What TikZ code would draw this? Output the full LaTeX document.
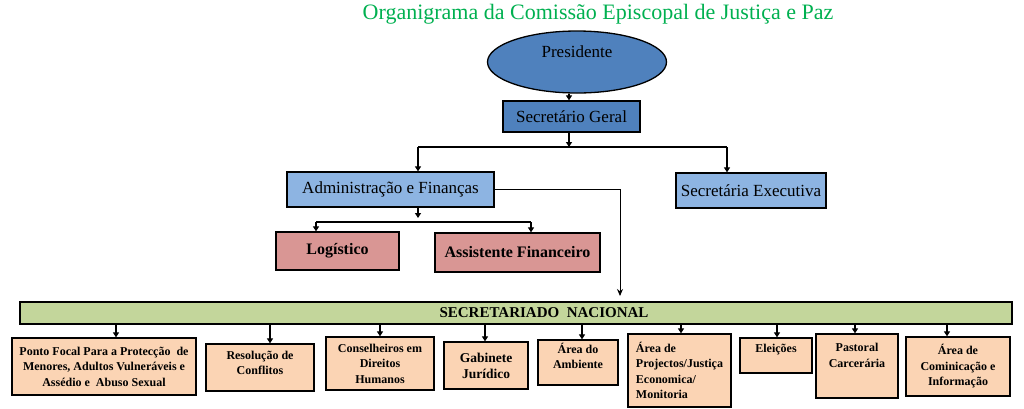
\documentclass[tikz,border=0pt]{standalone}
\usepackage{fontspec}
\setmainfont{Liberation Serif}
\usetikzlibrary{shapes.geometric,arrows.meta}
\definecolor{titlegreen}{RGB}{0,176,80}
\definecolor{darkblue}{RGB}{79,129,189}
\definecolor{lightblue}{RGB}{141,180,226}
\definecolor{rose}{RGB}{217,150,148}
\definecolor{olivegreen}{RGB}{195,214,155}
\definecolor{peach}{RGB}{251,212,180}

\begin{document}
\begin{tikzpicture}[x=1pt,y=-1pt,
	box/.style={draw=black,line width=1.3pt,rectangle,inner sep=2pt,align=center},
	topbox/.style={box,font=\fontsize{17}{19}\selectfont},
	subbox/.style={box,fill=rose,font=\fontsize{16}{18}\selectfont\bfseries},
	unitbox/.style={box,fill=peach,inner sep=1pt,font=\fontsize{12}{15.5}\selectfont\bfseries},
	arr/.style={line width=1.8pt,-{Triangle[length=5pt,width=6pt]}},
	bar/.style={line width=1.8pt},
	thinarr/.style={line width=0.9pt,-{Stealth[length=7pt,width=6pt]}}]
	\useasboundingbox (0,0) rectangle (1024,408);
	% title
	\node[text=titlegreen,font=\fontsize{22}{24}\selectfont] (title) at (598,14) {Organigrama da Comissão Episcopal de Justiça e Paz};
	% top levels
	\node[draw=black,line width=1.3pt,ellipse,fill=darkblue,minimum width=179pt,minimum height=62pt,font=\fontsize{17}{19}\selectfont] (pres) at (577,62) {};
	\node[font=\fontsize{17}{19}\selectfont] at (577,52) {Presidente};
	\node[topbox,fill=darkblue,minimum width=137pt,minimum height=31pt] (sg) at (571.5,116.5) {Secretário Geral};
	\node[topbox,fill=lightblue,minimum width=207pt,minimum height=35pt] (adm) at (390.5,189.5) {Administração e Finanças};
	\node[topbox,fill=lightblue,minimum width=150pt,minimum height=35pt] (sec) at (751,190.5) {Secretária Executiva};
	\node[subbox,minimum width=123pt,minimum height=38pt] (log) at (337.5,251) {Logístico};
	\node[subbox,minimum width=165pt,minimum height=39pt] (af) at (517.5,252.5) {Assistente Financeiro};
	\node[box,fill=olivegreen,minimum width=992pt,minimum height=22pt,font=\fontsize{15}{17}\selectfont\bfseries] (sn) at (516,313) {\hspace*{56pt}SECRETARIADO\ \ NACIONAL};
	% units
	\node[unitbox,minimum width=184pt,minimum height=57pt] (pf) at (104,366.5) {Ponto Focal Para a Protecção\ \ de\\Menores, Adultos Vulneráveis e\\Assédio e\ \ Abuso Sexual};
	\node[unitbox,minimum width=108pt,minimum height=47pt] (rc) at (260,367.5) {Resolução de\\Conflitos\\[-6pt]};
	\node[unitbox,minimum width=108pt,minimum height=53pt] (ch) at (380,363.5) {Conselheiros em\\Direitos\\Humanos};
	\node[unitbox,minimum width=84pt,minimum height=47pt,font=\fontsize{13.5}{16}\selectfont\bfseries] (gj) at (486,365.5) {Gabinete\\Jurídico};
	\node[unitbox,minimum width=80pt,minimum height=45pt] (aa) at (578,362.5) {Área do\\Ambiente\\[-2pt]};
	\node[unitbox,minimum width=103pt,minimum height=73pt,align=left] (ap) at (679.5,370.5) {Área de\\Projectos/Justiça\\Economica/\\Monitoria};
	\node[unitbox,minimum width=72pt,minimum height=35pt] (el) at (776,355.5) {Eleições\\[-2pt]};
	\node[unitbox,minimum width=82pt,minimum height=64pt] (pc) at (857,366) {Pastoral\\Carcerária\\[6pt]};
	\node[unitbox,minimum width=104pt,minimum height=59pt] (ac) at (958,366.5) {Área de\\Cominicação e\\Informação};
	% connectors
	\coordinate (sgbar) at (569,147);
	\coordinate (barL) at (418,147);
	\coordinate (barR) at (727,147);
	\draw[arr] (pres.south -| sgbar) -- (sg.north -| sgbar);
	\draw[arr] (sg.south -| sgbar) -- (sgbar);
	\draw[bar] (barL) -- (barR);
	\draw[arr] (barL) -- (adm.north -| barL);
	\draw[arr] (barR) -- (sec.north -| barR);
	\coordinate (sndrop) at (620,296);
	\draw[thinarr] (adm.east) -| (sndrop);
	\coordinate (admdown) at (418,218);
	\coordinate (subL) at (316,222);
	\coordinate (subR) at (531,222);
	\draw[arr] (adm.south -| admdown) -- (admdown);
	\draw[bar] (subL) -- (subR);
	\draw[arr] (subL) -- (log.north -| subL);
	\draw[arr] (subR) -- (af.north -| subR);
	\foreach \unit/\x in {pf/116,rc/270,ch/380,gj/485,aa/582,ap/681,el/777,pc/855,ac/947}
		\draw[arr] (sn.south -| \x,0) -- (\unit.north -| \x,0);
\end{tikzpicture}
\end{document}
